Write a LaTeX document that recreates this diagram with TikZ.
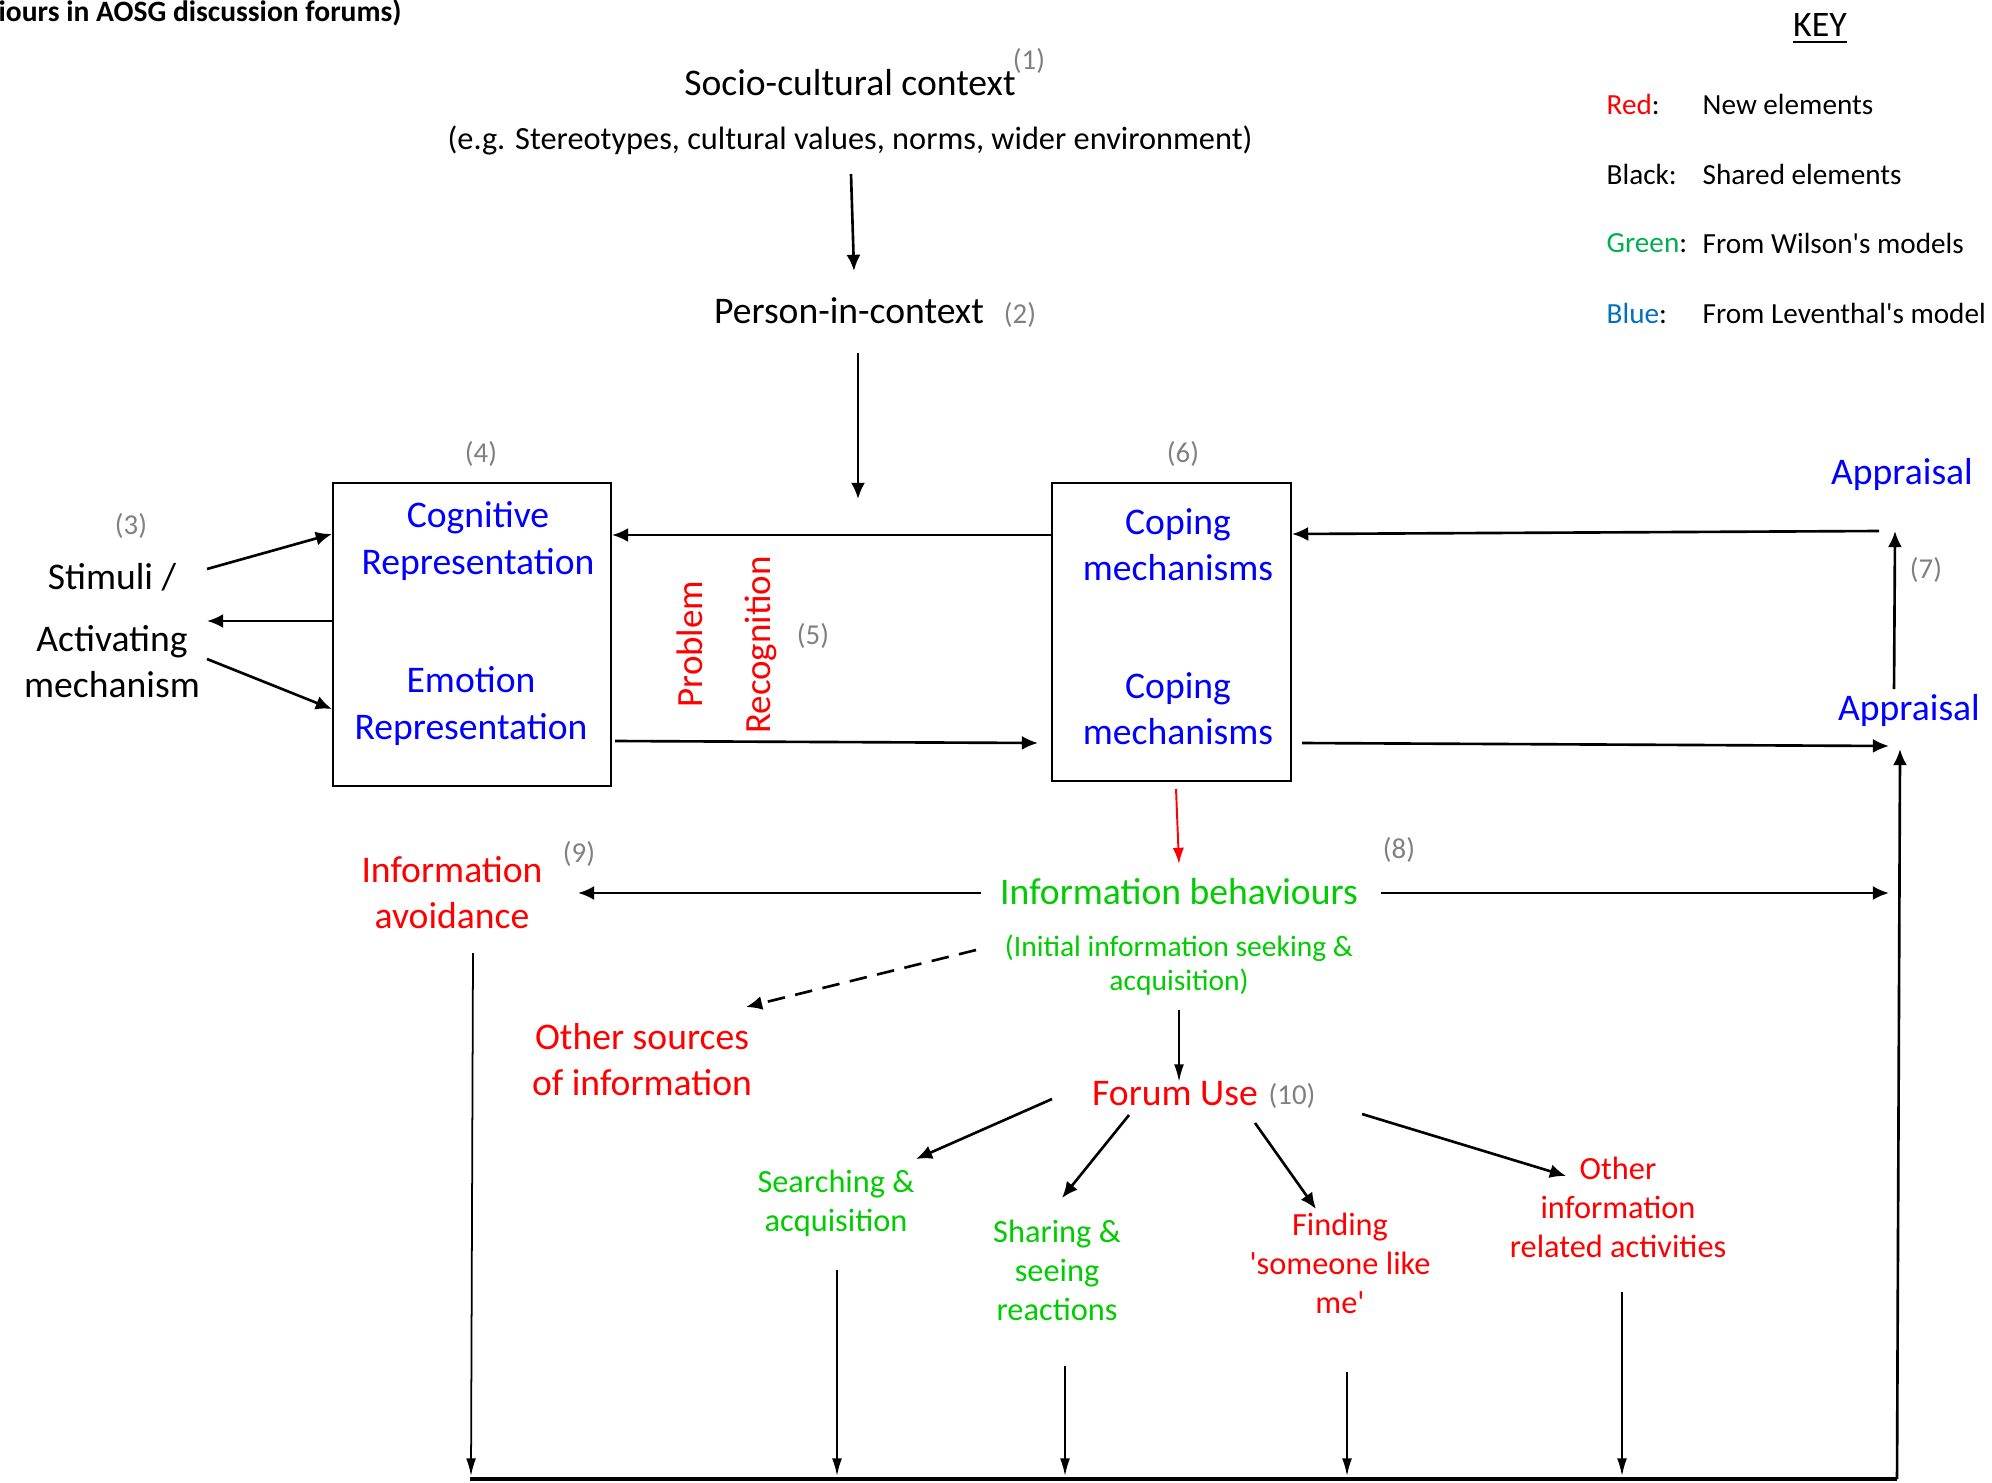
\documentclass[tikz,border=0pt]{standalone}
\usepackage{fontspec}
\setmainfont{Carlito}
\usetikzlibrary{arrows.meta}
\definecolor{newred}{HTML}{FF0000}
\definecolor{levblue}{HTML}{0000FF}
\definecolor{wilgreen}{HTML}{00CC00}
\definecolor{keygreen}{HTML}{00B050}
\definecolor{keyblue}{HTML}{0070C0}
\definecolor{numgray}{HTML}{808080}
\tikzset{
  big/.style={font=\fontsize{10.7}{13.1}\selectfont, align=center, inner sep=0pt},
  mid/.style={font=\fontsize{9.2}{11.1}\selectfont, align=center, inner sep=0pt},
  sml/.style={font=\fontsize{8.4}{9.7}\selectfont, align=center, inner sep=0pt},
  num/.style={font=\fontsize{8.2}{10}\selectfont, text=numgray, inner sep=0pt},
  keytxt/.style={font=\fontsize{8.3}{10}\selectfont, inner sep=0pt, anchor=west},
  frame/.style={draw, line width=0.55pt, inner sep=0pt},
  arr/.style={-{Latex[length=4.6pt,width=4pt]}, line width=0.75pt},
  thinarr/.style={-{Latex[length=5pt,width=2.8pt]}, line width=0.5pt},
}
\begin{document}
\begin{tikzpicture}[x=0.01cm,y=-0.01cm]
\useasboundingbox (0,0) rectangle (1992,1482);

% title fragment
\node[font=\fontsize{8.4}{10}\bfseries, inner sep=0pt, anchor=west] (title) at (-2,13) {iours in AOSG discussion forums)};

% key
\node[font=\fontsize{10.2}{12}\selectfont, inner sep=0pt] (key) at (1820,29) {\underline{KEY}};
\node[keytxt] (kr) at (1606,104) {\textcolor{newred}{Red}:};
\node[keytxt] (krv) at (1702,104) {New elements};
\node[keytxt] (kb) at (1606,174) {Black:};
\node[keytxt] (kbv) at (1702,174) {Shared elements};
\node[keytxt] (kg) at (1606,243) {\textcolor{keygreen}{Green}:};
\node[keytxt] (kgv) at (1702,243) {From Wilson\textquotesingle s models};
\node[keytxt] (kl) at (1606,313) {\textcolor{keyblue}{Blue}:};
\node[keytxt] (klv) at (1702,313) {From Leventhal\textquotesingle s model};

% context
\node[big] (soc) at (850,83) {Socio-cultural context};
\node[num] (n1) at (1029,61) {(1)};
\node[mid] (eg) at (850,140) {(e.g. Stereotypes, cultural values, norms, wider environment)};
\node[big] (pic) at (849,311) {Person-in-context};
\node[num] (n2) at (1020,315) {(2)};
\coordinate (egdown) at (851,174);
\coordinate (picin) at (854,271);
\coordinate (picout) at (858,353);
\coordinate (picend) at (858,499);
\draw[arr] (egdown) -- (picin);
\draw[arr] (picout) -- (picend);

% stimuli
\node[num] (n3) at (131,526) {(3)};
\node[big] (stim) at (112,577) {Stimuli /};
\node[big] (act) at (112,662) {Activating\\mechanism};

% representation box
\node[frame, minimum width=2.78cm, minimum height=3.03cm] (rep) at (472,634.5) {};
\node[num] (n4) at (481,454) {(4)};
\node[big, text=levblue] (cog) at (478,541) {Cognitive\\Representation};
\node[big, text=levblue] (emo) at (471,706) {Emotion\\Representation};

\coordinate (s1) at (207,569);
\coordinate (s2) at (207,621);
\coordinate (s3) at (207,659);
\draw[arr] (s1) -- (rep.west |- 0,534);
\draw[arr] (rep.west |- 0,621) -- (s2);
\draw[arr] (s3) -- (rep.west |- 0,709);

% coping box
\node[frame, minimum width=2.39cm, minimum height=2.98cm] (cop) at (1171.5,632) {};
\node[num] (n6) at (1183,454) {(6)};
\node[big, text=levblue] (cop1) at (1178,545) {Coping\\mechanisms};
\node[big, text=levblue] (cop2) at (1178,709) {Coping\\mechanisms};

\coordinate (repout) at (615,741);
\coordinate (copin) at (1038,743);
\draw[arr] (cop.west |- 0,535) -- (rep.east |- 0,535);
\draw[arr] (repout) -- (copin);

% problem recognition
\node[big, font=\fontsize{10.5}{13}\selectfont, text=newred, rotate=90] (prob) at (690,644) {Problem};
\node[big, font=\fontsize{10.5}{13}\selectfont, text=newred, rotate=90] (recog) at (761,645) {Recognition};
\node[num] (n5) at (813,636) {(5)};

% appraisal
\node[big, text=levblue] (app1) at (1902,474) {Appraisal};
\node[big, text=levblue] (app2) at (1909,710) {Appraisal};
\node[num] (n7) at (1926,570) {(7)};
\coordinate (a1l) at (1879,531);
\coordinate (a1b) at (1895,531);
\coordinate (a2t) at (1894,689);
\coordinate (a2l) at (1889,746);
\coordinate (a2b) at (1900,749);
\coordinate (copout) at (1302,743);
\draw[arr] (a1l) -- (cop.east |- 0,534) ;
\draw[arr] (a2t) -- (a1b);
\draw[arr] (copout) -- (a2l);

% information behaviours
\coordinate (copdown) at (1176,789);
\coordinate (ibin) at (1179,864);
\draw[-{Latex[length=4.6pt,width=3.2pt]}, line width=0.55pt, newred] (copdown) -- (ibin);
\node[big, text=wilgreen] (ib) at (1179,892) {Information behaviours};
\node[num] (n8) at (1399,850) {(8)};
\node[sml, text=wilgreen] (ibs) at (1179,965) {(Initial information seeking \&\\acquisition)};

\node[big, text=newred] (avoid) at (452,893) {Information\\avoidance};
\node[num] (n9) at (579,854) {(9)};
\coordinate (ibl) at (981,893);
\coordinate (avin) at (578,893);
\coordinate (ibr) at (1381,893);
\coordinate (r8) at (1889,893);
\draw[arr] (ibl) -- (avin);
\draw[arr] (ibr) -- (r8);

\node[big, text=newred] (other) at (642,1060) {Other sources\\of information};
\coordinate (dashs) at (976,950);
\coordinate (dashe) at (746,1007);
\draw[arr, dashed, dash pattern=on 5pt off 3pt] (dashs) -- (dashe);

% forum use
\node[big, text=newred] (forum) at (1175,1094) {Forum Use};
\node[num] (n10) at (1292,1096) {(10)};
\coordinate (ibdown) at (1179,1010);
\coordinate (fin) at (1179,1082);
\draw[thinarr, line width=0.6pt] (ibdown) -- (fin);

\node[mid, text=wilgreen] (search) at (836,1203) {Searching \&\\acquisition};
\node[mid, text=wilgreen] (share) at (1057,1270) {Sharing \&\\seeing\\reactions};
\node[mid, text=newred] (find) at (1340,1263) {Finding\\\textquotesingle someone like\\me\textquotesingle};
\node[mid, text=newred] (oia) at (1618,1207) {Other\\information\\related activities};

\coordinate (f1) at (1052,1099);
\coordinate (f1e) at (916,1159);
\coordinate (f2) at (1129,1115);
\coordinate (f2e) at (1062,1198);
\coordinate (f3) at (1255,1123);
\coordinate (f3e) at (1316,1209);
\coordinate (f4) at (1362,1114);
\coordinate (f4e) at (1566,1176);
\draw[arr] (f1) -- (f1e);
\draw[arr] (f2) -- (f2e);
\draw[arr] (f3) -- (f3e);
\draw[arr] (f4) -- (f4e);

% converging outcome line
\coordinate (bl) at (470,1479);
\coordinate (br) at (1897,1479);
\draw[line width=1.2pt] (bl) -- (br);

\coordinate (avs) at (473,953);
\coordinate (avb) at (471,1476);
\draw[thinarr] (avs) -- (avb);
\coordinate (d1) at (837,1270);
\coordinate (d1e) at (837,1476);
\coordinate (d2) at (1065,1366);
\coordinate (d2e) at (1065,1476);
\coordinate (d3) at (1347,1372);
\coordinate (d3e) at (1347,1476);
\coordinate (d4) at (1622,1292);
\coordinate (d4e) at (1622,1476);
\draw[thinarr] (d1) -- (d1e);
\draw[thinarr] (d2) -- (d2e);
\draw[thinarr] (d3) -- (d3e);
\draw[thinarr] (d4) -- (d4e);
\draw[arr] (br) -- (a2b);

\end{tikzpicture}
\end{document}
